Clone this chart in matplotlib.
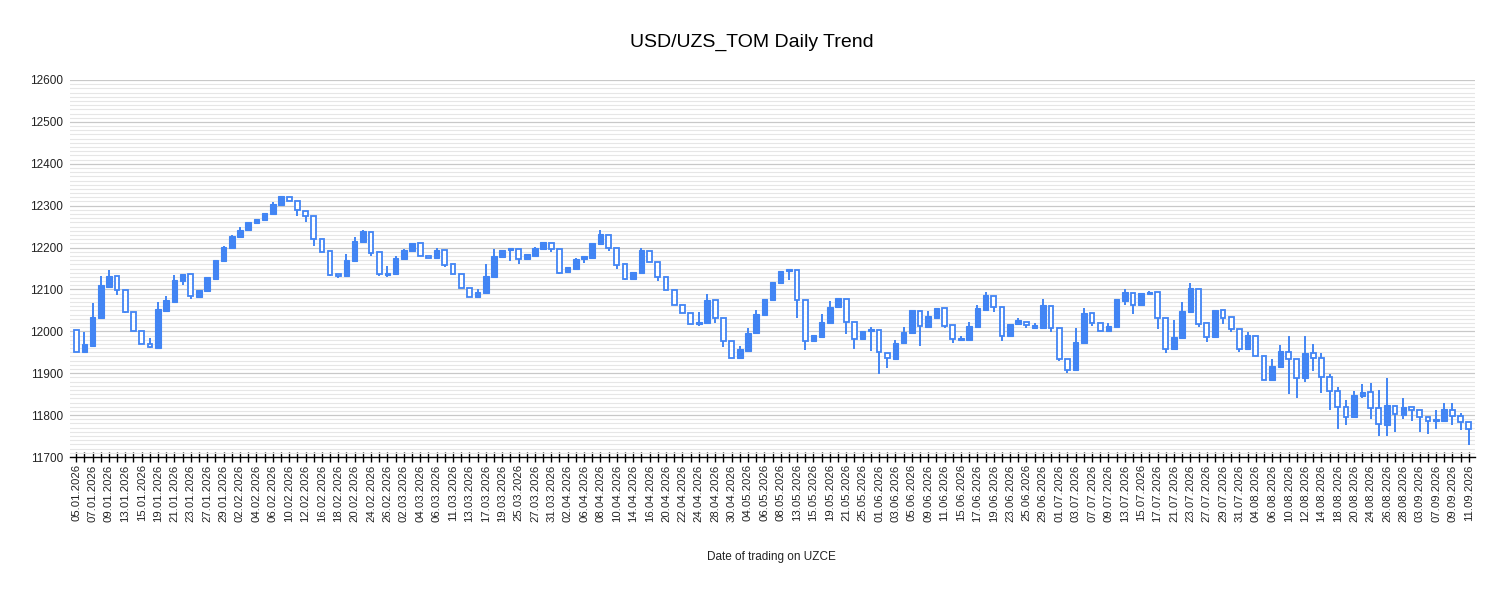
import matplotlib
matplotlib.use("Agg")
import matplotlib.pyplot as plt
import numpy as np
import pandas as pd

plt.rcParams['font.family'] = ['Liberation Sans', 'DejaVu Sans']

# trading days on UZCE (weekdays without the exchange holidays)
holidays = ['2026-03-09', '2026-03-20', '2026-03-23', '2026-05-11', '2026-05-27',
            '2026-05-28', '2026-05-29', '2026-08-31', '2026-09-01']
dates = [d for d in pd.bdate_range('2026-01-05', '2026-09-11')
         if d.strftime('%Y-%m-%d') not in holidays]
date_labels = [d.strftime('%d.%m.%Y') for d in dates]

opens = [12003, 11950, 11966, 12031, 12107, 12131, 12099, 12047, 12001, 11970,
         11961, 12049, 12071, 12120, 12136, 12083, 12097, 12126, 12168, 12198,
         12225, 12241, 12258, 12265, 12279, 12302, 12321, 12310, 12288, 12276,
         12221, 12191, 12138, 12131, 12169, 12213, 12238, 12189, 12134, 12136,
         12172, 12191, 12212, 12181, 12176, 12193, 12160, 12138, 12104, 12082,
         12091, 12130, 12178, 12194, 12197, 12172, 12180, 12196, 12212, 12196,
         12142, 12150, 12172, 12176, 12209, 12230, 12200, 12160, 12126, 12140,
         12192, 12166, 12130, 12098, 12063, 12043, 12017, 12021, 12075, 12031,
         11977, 11937, 11953, 11995, 12038, 12075, 12116, 12144, 12147, 12075,
         11977, 11987, 12021, 12057, 12078, 12022, 11981, 12000, 12003, 11949,
         11935, 11972, 11995, 12049, 12011, 12033, 12055, 12015, 11979, 11979,
         12011, 12051, 12085, 12059, 11990, 12017, 12023, 12009, 12009, 12061,
         12009, 11934, 11908, 11973, 12043, 12021, 12001, 12011, 12073, 12092,
         12063, 12089, 12093, 12031, 11958, 11985, 12047, 12101, 12019, 11987,
         12051, 12035, 12006, 11959, 11990, 11941, 11885, 11914, 11951, 11934,
         11888, 11949, 11937, 11892, 11858, 11820, 11795, 11846, 11854, 11818,
         11776, 11822, 11800, 11820, 11812, 11795, 11787, 11787, 11812, 11798,
         11783]
highs = [12003, 11999, 12067, 12132, 12147, 12131, 12099, 12047, 12001, 11983,
         12070, 12085, 12135, 12138, 12136, 12099, 12129, 12171, 12204, 12231,
         12250, 12260, 12268, 12282, 12308, 12322, 12321, 12310, 12288, 12276,
         12221, 12191, 12138, 12185, 12226, 12243, 12238, 12189, 12156, 12180,
         12197, 12212, 12212, 12181, 12200, 12193, 12160, 12138, 12104, 12100,
         12160, 12196, 12194, 12199, 12197, 12184, 12201, 12213, 12212, 12196,
         12154, 12176, 12180, 12210, 12241, 12230, 12200, 12160, 12142, 12200,
         12192, 12166, 12130, 12098, 12063, 12043, 12045, 12088, 12075, 12031,
         11977, 11964, 12009, 12050, 12077, 12118, 12144, 12150, 12147, 12075,
         11991, 12042, 12073, 12079, 12078, 12022, 12001, 12011, 12003, 11949,
         11980, 12011, 12051, 12049, 12048, 12055, 12055, 12015, 11989, 12023,
         12064, 12095, 12085, 12059, 12018, 12031, 12023, 12021, 12076, 12061,
         12009, 11934, 12007, 12055, 12043, 12021, 12021, 12077, 12100, 12092,
         12091, 12096, 12093, 12031, 12027, 12069, 12115, 12101, 12019, 12052,
         12051, 12035, 12006, 11998, 11990, 11941, 11935, 11967, 11989, 11934,
         11989, 11969, 11949, 11897, 11868, 11836, 11858, 11874, 11877, 11861,
         11888, 11822, 11842, 11820, 11812, 11795, 11812, 11828, 11828, 11804,
         11783]
lows = [11950, 11950, 11966, 12031, 12107, 12086, 12043, 12001, 11970, 11961,
        11961, 12049, 12071, 12111, 12077, 12083, 12097, 12126, 12168, 12198,
        12225, 12241, 12258, 12265, 12279, 12302, 12310, 12276, 12262, 12203,
        12190, 12131, 12127, 12131, 12169, 12213, 12181, 12132, 12130, 12136,
        12172, 12191, 12180, 12176, 12176, 12154, 12136, 12103, 12083, 12082,
        12091, 12130, 12178, 12169, 12161, 12172, 12180, 12196, 12189, 12136,
        12142, 12150, 12164, 12176, 12209, 12192, 12150, 12122, 12126, 12140,
        12166, 12119, 12098, 12063, 12043, 12017, 12013, 12021, 12021, 11963,
        11937, 11937, 11953, 11995, 12038, 12075, 12116, 12123, 12033, 11956,
        11977, 11987, 12021, 12057, 11993, 11957, 11981, 11953, 11897, 11913,
        11935, 11972, 11995, 11966, 12011, 12033, 12007, 11971, 11979, 11979,
        12011, 12051, 12045, 11978, 11990, 12017, 12009, 12005, 12009, 11998,
        11930, 11900, 11908, 11973, 12013, 12001, 12001, 12011, 12063, 12041,
        12063, 12089, 12005, 11949, 11958, 11985, 12047, 12011, 11974, 11987,
        12017, 11999, 11951, 11959, 11941, 11885, 11885, 11914, 11850, 11840,
        11880, 11906, 11852, 11812, 11768, 11776, 11795, 11840, 11790, 11750,
        11750, 11760, 11790, 11786, 11760, 11756, 11766, 11787, 11776, 11764,
        11728]
closes = [11951, 11970, 12035, 12110, 12132, 12099, 12045, 12001, 11970, 11962,
          12053, 12075, 12123, 12138, 12085, 12099, 12129, 12171, 12201, 12227,
          12243, 12260, 12268, 12282, 12305, 12322, 12310, 12289, 12276, 12220,
          12190, 12135, 12132, 12171, 12215, 12240, 12188, 12136, 12140, 12176,
          12193, 12212, 12180, 12176, 12194, 12158, 12136, 12103, 12083, 12095,
          12132, 12181, 12194, 12198, 12172, 12184, 12200, 12213, 12196, 12140,
          12154, 12173, 12180, 12210, 12232, 12200, 12158, 12126, 12142, 12193,
          12166, 12130, 12098, 12063, 12043, 12017, 12023, 12075, 12031, 11977,
          11937, 11957, 11997, 12041, 12077, 12118, 12144, 12148, 12075, 11977,
          11991, 12022, 12058, 12079, 12022, 11981, 12001, 12005, 11951, 11936,
          11973, 11999, 12051, 12013, 12037, 12055, 12013, 11982, 11983, 12013,
          12055, 12087, 12059, 11990, 12018, 12026, 12015, 12015, 12063, 12009,
          11935, 11908, 11974, 12043, 12021, 12001, 12013, 12077, 12095, 12064,
          12091, 12095, 12031, 11957, 11987, 12049, 12103, 12017, 11987, 12052,
          12031, 12005, 11959, 11991, 11941, 11885, 11917, 11953, 11934, 11888,
          11949, 11937, 11892, 11858, 11820, 11795, 11848, 11856, 11818, 11778,
          11824, 11802, 11820, 11812, 11795, 11787, 11791, 11814, 11798, 11784,
          11766]

blue = '#4285F4'

fig = plt.figure(figsize=(15.03, 5.93), dpi=100)
ax = fig.add_axes([70 / 1503, 1 - 457 / 593, 1405 / 1503, 377 / 593])

x = np.arange(len(dates))
o = np.array(opens)
c = np.array(closes)
up = c >= o

# wicks
ax.vlines(x, lows, highs, color=blue, lw=1.4, zorder=3)

# bodies: rising filled, falling hollow
body_lo = np.minimum(o, c)
body_h = np.maximum(np.abs(c - o), 2)
ax.bar(x[up], body_h[up], bottom=body_lo[up], width=0.68,
       color=blue, edgecolor=blue, lw=0.8, zorder=4)
ax.bar(x[~up], body_h[~up], bottom=body_lo[~up], width=0.58,
       color='white', edgecolor=blue, lw=1.3, zorder=4)

ax.set_ylim(11700, 12600)
ax.set_xlim(-0.75, len(dates) - 0.25)
ax.set_yticks(np.arange(11700, 12601, 100))
ax.set_yticks(np.arange(11700, 12601, 10), minor=True)
ax.grid(axis='y', which='major', color='#c8c8c8', lw=0.9, zorder=0)
ax.grid(axis='y', which='minor', color='#e6e6e6', lw=0.8, zorder=0)
ax.set_axisbelow(True)

for s in ['top', 'right', 'left']:
    ax.spines[s].set_visible(False)
ax.spines['bottom'].set_color('black')
ax.spines['bottom'].set_linewidth(1)
ax.spines['bottom'].set_zorder(5)

ax.tick_params(axis='y', which='both', length=0, pad=5, labelsize=8.5, labelcolor='#222222')
ax.set_xticks(x)
ax.set_xticklabels([lab if i % 2 == 0 else '' for i, lab in enumerate(date_labels)],
                   rotation=90, fontsize=8.2, color='#222222')
ax.tick_params(axis='x', direction='inout', length=7.5, width=1, color='black', pad=1.5)

fig.text(0.5, 1 - 42 / 593, 'USD/UZS_TOM Daily Trend', ha='center', va='center',
         fontsize=14, color='black')
fig.text(771 / 1503, 1 - 557 / 593, 'Date of trading on UZCE', ha='center', va='center',
         fontsize=8.5, color='#222222')

fig.savefig('out.png', dpi=100, facecolor='white')
